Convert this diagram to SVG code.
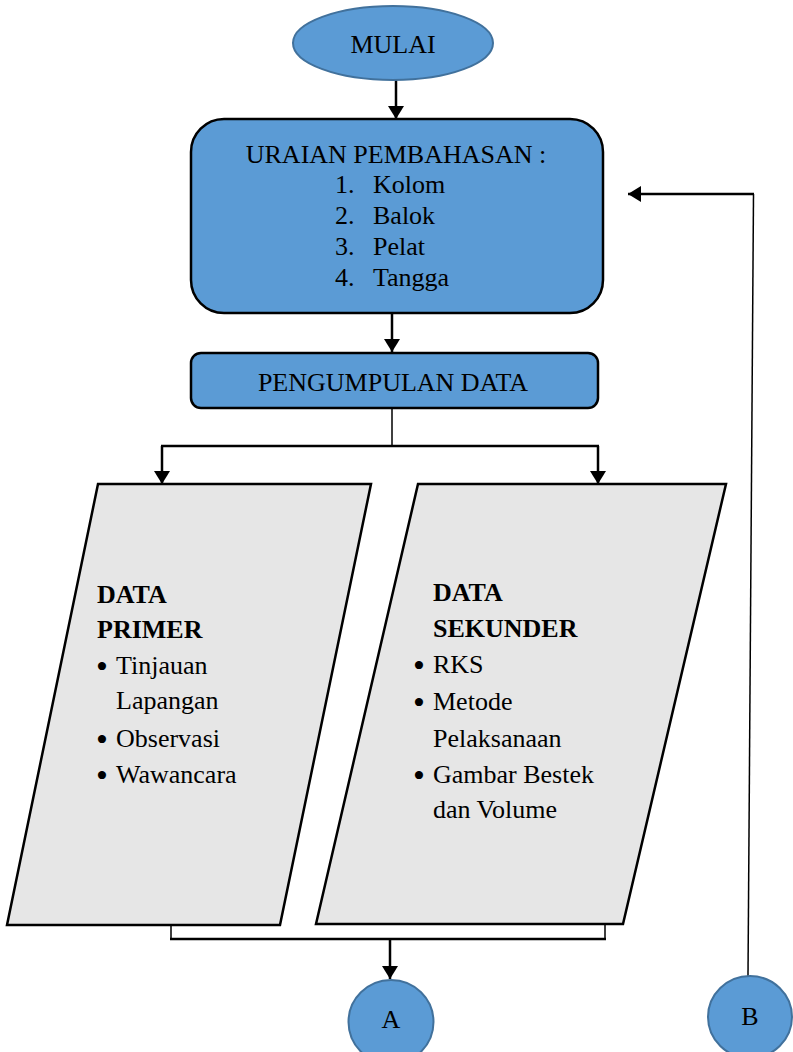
<svg xmlns="http://www.w3.org/2000/svg" width="793" height="1052" viewBox="0 0 793 1052">
<style>
text{font-family:"Liberation Serif","Times New Roman",serif;font-size:26px;fill:#000}
.c{text-anchor:middle}
.b{font-weight:bold}
.bu{font-size:34px}
.blue{fill:#5B9BD5;stroke:#41719C;stroke-width:2}
.box{fill:#5B9BD5;stroke:#000;stroke-width:2.5}
.para{fill:#E6E6E6;stroke:#000;stroke-width:2.5}
.ln{fill:none;stroke:#000;stroke-width:2.5}
.thin{fill:none;stroke:#000;stroke-width:1.5}
</style>
<defs>
<marker id="ah" viewBox="0 0 13 16" refX="13" refY="8" markerWidth="13" markerHeight="16" markerUnits="userSpaceOnUse" orient="auto">
<path d="M0,0 L13,8 L0,16 z" fill="#000"/>
</marker>
</defs>
<g id="connectors">
<line class="ln" x1="396" y1="80" x2="396" y2="119" marker-end="url(#ah)"/>
<line class="ln" x1="392" y1="313" x2="392" y2="352" marker-end="url(#ah)"/>
<path class="thin" d="M392,408 V446"/>
<path class="ln" d="M161,446 H599"/>
<line class="ln" x1="162" y1="446" x2="162" y2="484" marker-end="url(#ah)"/>
<line class="ln" x1="598" y1="446" x2="598" y2="484" marker-end="url(#ah)"/>
<path class="thin" d="M171,925 V939 M605,924 V939"/>
<path class="ln" d="M170,939 H606"/>
<line class="ln" x1="390" y1="939" x2="390" y2="979" marker-end="url(#ah)"/>
<path class="thin" d="M748,976 L753.5,194"/>
<line class="ln" x1="754" y1="194" x2="628" y2="194" marker-end="url(#ah)"/>
</g>
<g id="mulai">
<ellipse class="blue" cx="393" cy="43" rx="100" ry="37"/>
<text class="c" x="393" y="53">MULAI</text>
</g>
<g id="uraian">
<rect class="box" x="191" y="119" width="412" height="194" rx="33"/>
<text class="c" x="396" y="163">URAIAN PEMBAHASAN :</text>
<text x="335" y="193">1.</text><text x="373" y="193">Kolom</text>
<text x="335" y="224">2.</text><text x="373" y="224">Balok</text>
<text x="335" y="255">3.</text><text x="373" y="255">Pelat</text>
<text x="335" y="286">4.</text><text x="373" y="286">Tangga</text>
</g>
<g id="pengumpulan">
<rect class="box" x="191" y="353" width="407" height="55" rx="10"/>
<text class="c" x="393" y="391">PENGUMPULAN DATA</text>
</g>
<g id="data-primer">
<polygon class="para" points="98,484 371,484 280,925 7,925"/>
<text class="b" x="97" y="603">DATA</text>
<text class="b" x="97" y="638">PRIMER</text>
<text class="bu" x="96" y="678">•</text><text x="116" y="674">Tinjauan</text>
<text x="116" y="709">Lapangan</text>
<text class="bu" x="96" y="751">•</text><text x="116" y="747">Observasi</text>
<text class="bu" x="96" y="787">•</text><text x="116" y="783">Wawancara</text>
</g>
<g id="data-sekunder">
<polygon class="para" points="418,484 726,484 623,924 316,924"/>
<text class="b" x="433" y="601">DATA</text>
<text class="b" x="433" y="637">SEKUNDER</text>
<text class="bu" x="413" y="677">•</text><text x="433" y="673">RKS</text>
<text class="bu" x="413" y="714">•</text><text x="433" y="710">Metode</text>
<text x="433" y="747">Pelaksanaan</text>
<text class="bu" x="413" y="787">•</text><text x="433" y="783">Gambar Bestek</text>
<text x="433" y="818">dan Volume</text>
</g>
<g id="node-a">
<ellipse class="blue" cx="391" cy="1022" rx="42.5" ry="42"/>
<text class="c" x="391" y="1028">A</text>
</g>
<g id="node-b">
<ellipse class="blue" cx="750" cy="1017" rx="42" ry="41"/>
<text class="c" x="750" y="1025">B</text>
</g>
</svg>
